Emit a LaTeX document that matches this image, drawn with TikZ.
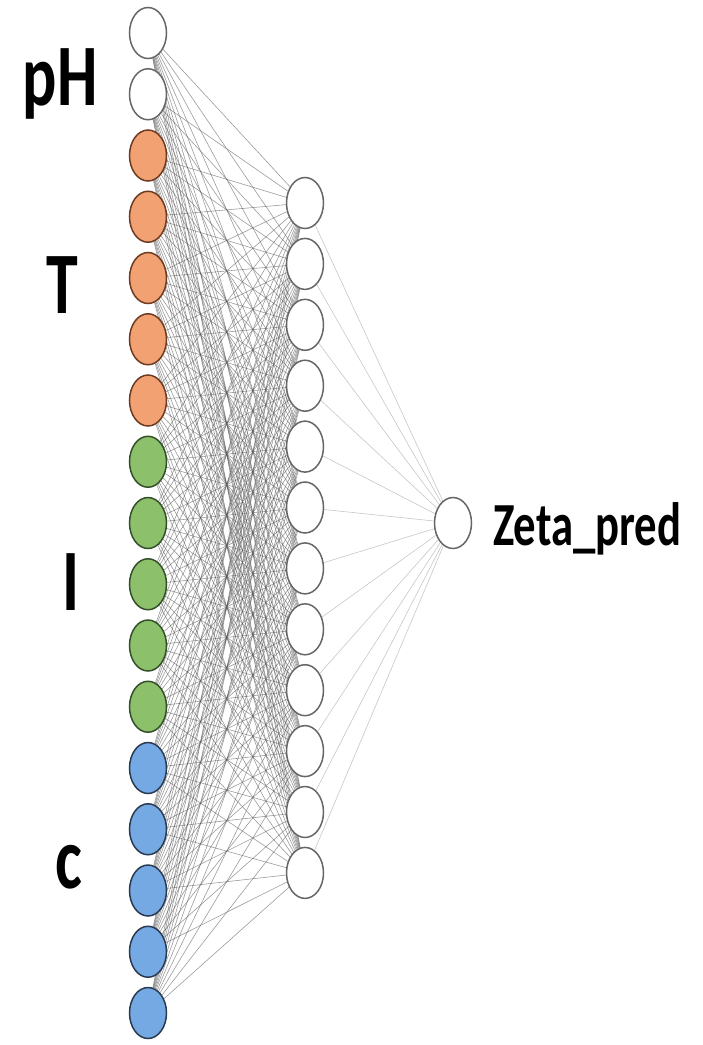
\documentclass[tikz,border=0pt]{standalone}
\usepackage{tikz}
\usepackage{xcolor}
\usepackage{graphicx}
\usepackage{fontspec}
\setmainfont{Carlito}
\usetikzlibrary{shapes.geometric, positioning, backgrounds}
\definecolor{tfill}{HTML}{F2A173}
\definecolor{tdraw}{HTML}{6E3A20}
\definecolor{ifill}{HTML}{8DC06A}
\definecolor{idraw}{HTML}{34502A}
\definecolor{cfill}{HTML}{74A9E3}
\definecolor{cdraw}{HTML}{2A3A52}
\tikzstyle{neuron} = [ellipse, draw=black!60, line width=1.5pt, fill=white, minimum width=37pt, minimum height=51pt, inner sep=0pt]
\tikzstyle{tnode} = [neuron, draw=tdraw, fill=tfill]
\tikzstyle{inode} = [neuron, draw=idraw, fill=ifill]
\tikzstyle{cnode} = [neuron, draw=cdraw, fill=cfill]
\tikzstyle{wire} = [draw, black!65, line width=0.6pt, opacity=0.6]
\tikzstyle{wirelight} = [draw, black!22, line width=0.6pt]
\tikzstyle{varlabel} = [anchor=base, inner sep=0pt, font=\fontsize{64}{64}\selectfont\bfseries]
\newcommand{\tall}[1]{\scalebox{1}[1.37]{#1}}

\begin{document}
\begin{tikzpicture}[x=1pt, y=-1pt]
    \useasboundingbox (0,0) rectangle (703,1045);
    % Input layer
    \foreach \i in {1,2} \node [neuron] (in\i) at (148,{33+(\i-1)*61.25}) {};
    \foreach \i in {3,...,7} \node [tnode] (in\i) at (148,{33+(\i-1)*61.25}) {};
    \foreach \i in {8,...,12} \node [inode] (in\i) at (148,{33+(\i-1)*61.25}) {};
    \foreach \i in {13,...,17} \node [cnode] (in\i) at (148,{33+(\i-1)*61.25}) {};

    % Hidden layer
    \foreach \j in {1,...,12} \node [neuron] (hid\j) at (305,{203+(\j-1)*60.9}) {};

    % Output
    \node [neuron] (out) at (453,523) {};
    \node [anchor=base west, inner sep=0pt, font=\fontsize{44.7}{45}\selectfont\bfseries] (zeta) at (493,545) {\tall{Zeta\_pred}};

    % Labels
    \node [varlabel] (phlabel) at (60,105) {\tall{pH}};
    \node [varlabel] (tlabel) at (62,313) {\tall{T}};
    \node [varlabel] (ilabel) at (71,610) {\tall{I}};
    \node [varlabel] (clabel) at (69,888) {\tall{c}};

    % Lines
    \begin{pgfonlayer}{background}
        \foreach \i in {1,...,17}
            \foreach \j in {1,...,12}
                \path [wire] (in\i) -- (hid\j);
        \foreach \j in {1,...,12}
            \path [wirelight] (hid\j) -- (out);
    \end{pgfonlayer}
\end{tikzpicture}
\end{document}
